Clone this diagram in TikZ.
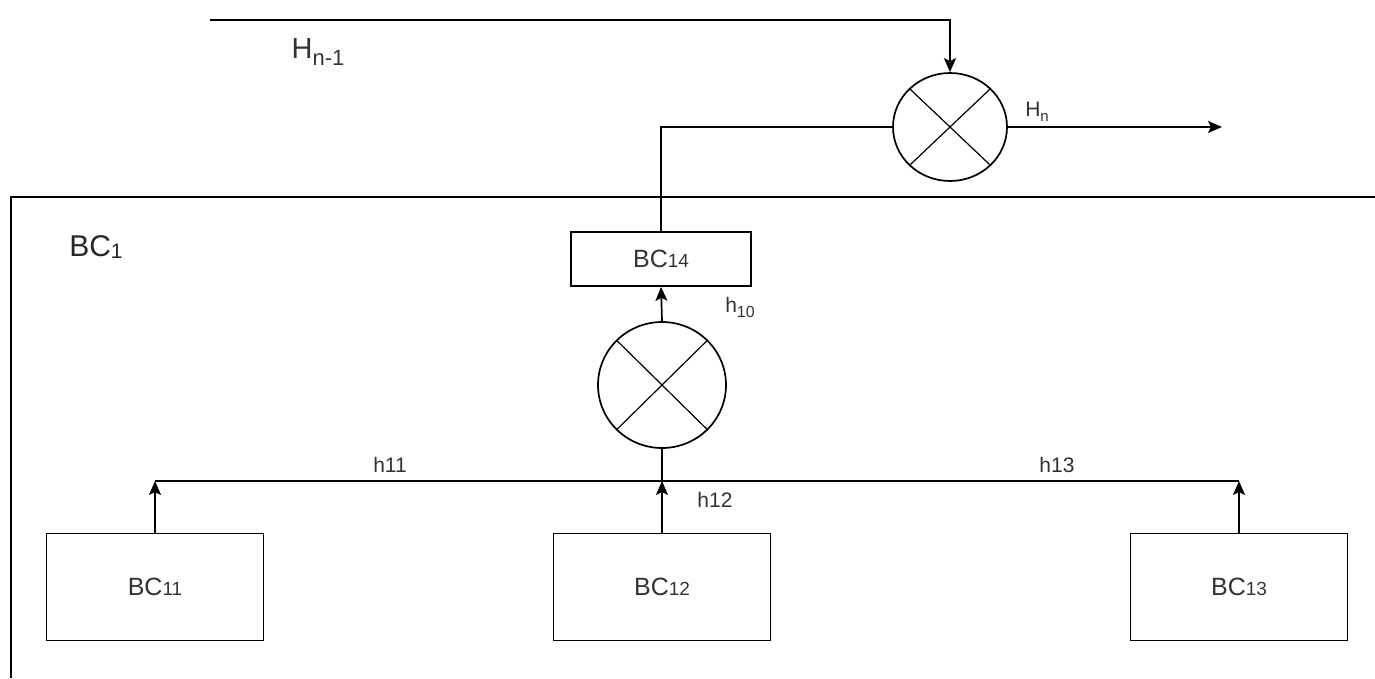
\documentclass[tikz,border=0pt]{standalone}
\usepackage{fontspec}
\setmainfont{Liberation Sans}
\usetikzlibrary{arrows.meta,shapes.geometric}
\begin{document}
\begin{tikzpicture}[x=1pt,y=-1pt,
  line width=1.7pt,
  arr/.style={-{Stealth[length=14pt,width=12pt,inset=3pt]}},
  blk/.style={draw, rectangle, minimum width=217pt, minimum height=107pt, inner sep=0pt,
     font=\fontsize{25}{28}\selectfont, text=black!80},
  smallblk/.style={draw, rectangle, minimum width=180pt, minimum height=54pt, inner sep=0pt,
     font=\fontsize{25}{28}\selectfont, text=black!80},
  multnode/.style={draw, ellipse, inner sep=0pt},
  cross/.style={line width=1.2pt},
  lbl/.style={font=\fontsize{21}{24}\selectfont, text=black!80, inner sep=0pt}
]
\useasboundingbox (0,0) rectangle (1375,678);
% outer container (open on right and bottom)
\draw (11,678) -- (11,197) -- (1375,197);

% multipliers
\node[multnode, minimum width=114pt, minimum height=108pt] (m1) at (950,127) {};
\draw[cross] (m1.north west) -- (m1.south east) (m1.north east) -- (m1.south west);
\node[multnode, minimum width=128pt, minimum height=126pt] (m2) at (662,385) {};
\draw[cross] (m2.north west) -- (m2.south east) (m2.north east) -- (m2.south west);

% blocks
\node[smallblk] (b14) at (661,259) {BC{\fontsize{19}{22}\selectfont 14}};
\node[blk] (b11) at (155,587) {BC{\fontsize{19}{22}\selectfont 11}};
\node[blk] (b12) at (662,587) {BC{\fontsize{19}{22}\selectfont 12}};
\node[blk] (b13) at (1239,587) {BC{\fontsize{19}{22}\selectfont 13}};

% coordinates
\coordinate (hstart) at (210,20);
\coordinate (hcorner) at (950,20);
\coordinate (hnend) at (1222,127);
\coordinate (j11) at (155,481);
\coordinate (j12) at (662,481);
\coordinate (j13) at (1239,481);

% top connectors
\draw[arr] (hstart) -- (hcorner) -- (m1.north);
\draw[arr] (m1.east) -- (hnend);
\draw (m1.west) -| (b14.north);

% inner connectors
\draw[arr] (m2.north) -- (b14.south);
\draw (j11) -- (j13);
\draw (m2.south) -- (j12);
\draw[arr] (b11.north) -- (j11);
\draw[arr] (b12.north) -- (j12);
\draw[arr] (b13.north) -- (j13);

% labels
\node[font=\fontsize{29}{32}\selectfont, text=black!80, inner sep=0pt] (lhn1) at (318,52) {H\raisebox{-7pt}{\fontsize{22}{24}\selectfont n-1}};
\node[lbl] (lhn) at (1037,112) {H\raisebox{-5pt}{\fontsize{15}{17}\selectfont n}};
\node[font=\fontsize{30}{32}\selectfont, text=black!85, inner sep=0pt] (lbc1) at (96,247) {BC\raisebox{-2pt}{\fontsize{21}{24}\selectfont 1}};
\node[lbl] (lh10) at (740,307) {h\raisebox{-5pt}{\fontsize{16}{18}\selectfont 10}};
\node[lbl] (lh11) at (390,465) {h11};
\node[lbl] (lh12) at (715,500) {h12};
\node[lbl] (lh13) at (1057,465) {h13};
\end{tikzpicture}
\end{document}
